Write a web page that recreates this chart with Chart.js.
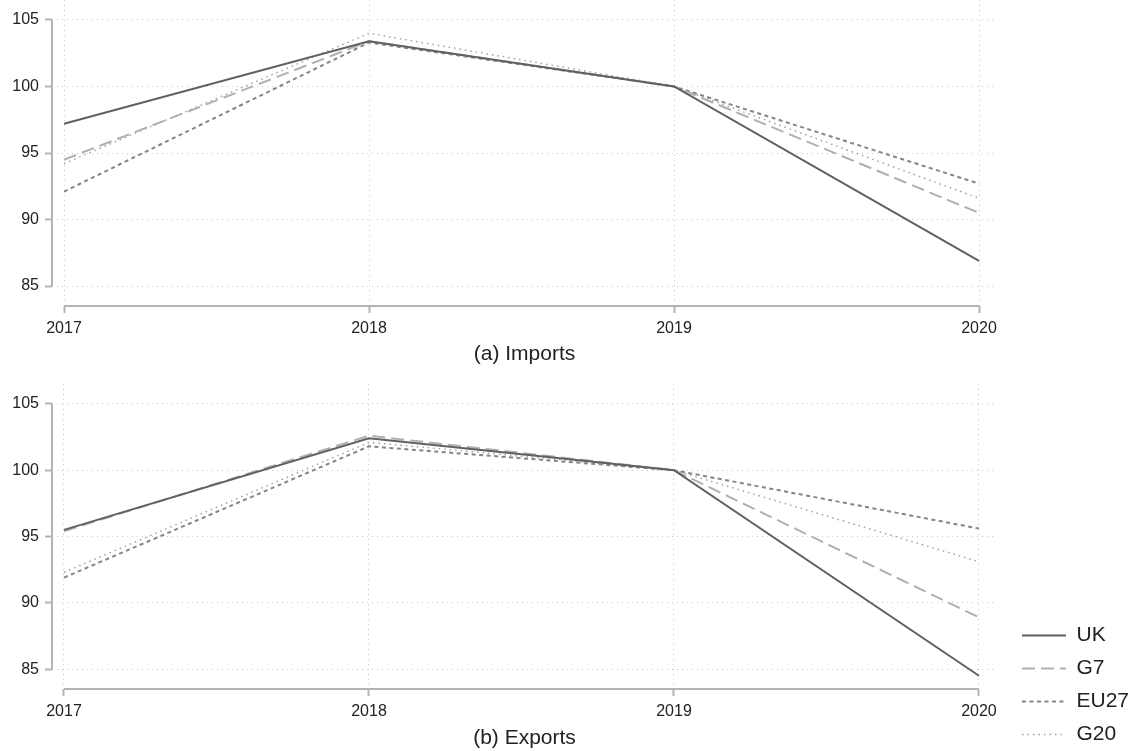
<!DOCTYPE html>
<html>
<head>
<meta charset="utf-8">
<script src="https://cdn.jsdelivr.net/npm/chart.js@4"></script>
<style>
  html, body { margin: 0; padding: 0; background: #fff; overflow: hidden; }
  #wrap { position: relative; width: 1137px; height: 751px; overflow: hidden; }
  #imports { position: absolute; left: 0; top: 0; }
  #exports { position: absolute; left: 0; top: 375px; }
</style>
</head>
<body>
<div id="wrap">
  <canvas id="imports" width="1137" height="375"></canvas>
  <canvas id="exports" width="1137" height="382"></canvas>
</div>
<script>
var years = [2017, 2018, 2019, 2020];
var yTicks = [85, 90, 95, 100, 105];
var seriesNames = ["UK", "G7", "EU27", "G20"];

// (a) Imports, index 2019 = 100
var ukImports   = [97.2, 103.4, 100, 86.9];
var g7Imports   = [94.5, 103.4, 100, 90.5];
var eu27Imports = [92.1, 103.3, 100, 92.7];
var g20Imports  = [94.2, 104.0, 100, 91.6];

// (b) Exports, index 2019 = 100
var ukExports   = [95.5, 102.4, 100, 84.5];
var g7Exports   = [95.4, 102.6, 100, 88.9];
var eu27Exports = [91.9, 101.8, 100, 95.6];
var g20Exports  = [92.3, 102.1, 100, 93.1];

var styles = [
  { color: "#606060", dash: [],       width: 2 },
  { color: "#b0b0b0", dash: [13, 6],  width: 2 },
  { color: "#858585", dash: [4, 3.5], width: 2 },
  { color: "#a0a0a0", dash: [1.5, 4], width: 1.5 }
];

Chart.defaults.font.family = "'Liberation Sans', Arial, sans-serif";
Chart.defaults.color = "#222";

function makeDatasets(values) {
  var ds = [];
  for (var i in values) {
    ds.push({
      label: seriesNames[i],
      data: years.map(function(yr, j) { return { x: yr, y: values[i][j] }; }),
      borderColor: styles[i].color,
      backgroundColor: styles[i].color,
      borderDash: styles[i].dash,
      borderWidth: styles[i].width,
      pointRadius: 0,
      fill: false,
      tension: 0
    });
  }
  return ds;
}

// legend samples should use the line's dash, not the point style
function legendLabels(chart) {
  var items = Chart.defaults.plugins.legend.labels.generateLabels(chart);
  items.forEach(function(it) {
    var ds = chart.data.datasets[it.datasetIndex];
    it.lineDash = ds.borderDash;
    it.lineWidth = ds.borderWidth;
    it.strokeStyle = ds.borderColor;
    it.fillStyle = "rgba(0,0,0,0)";
  });
  return items;
}

// legend sits a bit right of the plot edge
var legendShift = {
  id: "legendShift",
  afterLayout: function(chart) {
    if (chart.legend && chart.legend.options.display) {
      chart.legend.left += 13;
      chart.legend.right += 13;
    }
  }
};

// draw the short axis lines that only run between the first and last tick
var axisLines = {
  id: "axisLines",
  afterDraw: function(chart) {
    var ctx = chart.ctx, xs = chart.scales.x, ys = chart.scales.y;
    var a = chart.chartArea;
    ctx.save();
    ctx.strokeStyle = "#b4b4b4";
    ctx.lineWidth = 2;
    ctx.beginPath();
    ctx.moveTo(xs.getPixelForValue(years[0]), a.bottom);
    ctx.lineTo(xs.getPixelForValue(years[years.length - 1]), a.bottom);
    ctx.moveTo(a.left, ys.getPixelForValue(yTicks[0]));
    ctx.lineTo(a.left, ys.getPixelForValue(yTicks[yTicks.length - 1]));
    ctx.stroke();
    ctx.restore();
  }
};

function makeOptions(title, xHeight, titlePad, showLegend) {
  return {
    responsive: false,
    animation: false,
    layout: { padding: showLegend ? { top: 9, right: 11, bottom: 0, left: 0 } : { top: 0, right: 140, bottom: 0, left: 0 } },
    plugins: {
      legend: {
        display: showLegend,
        position: "right",
        align: "end",
        labels: {
          usePointStyle: true,
          pointStyle: "line",
          pointStyleWidth: 44,
          padding: 12,
          color: "#222",
          font: { size: 21 },
          generateLabels: legendLabels
        }
      },
      tooltip: { enabled: false }
    },
    scales: {
      x: {
        type: "linear",
        min: 2017 - 12 / 305,
        max: 2020 + 18 / 305,
        afterBuildTicks: function(s) { s.ticks = years.map(function(v) { return { value: v }; }); },
        afterFit: function(s) { s.height = xHeight; },
        ticks: {
          padding: 6,
          font: { size: 16 },
          color: "#222",
          callback: function(v) { return String(v); }
        },
        grid: {
          color: "#c8c8c8",
          lineWidth: 1,
          tickLength: 7,
          tickColor: "#b4b4b4",
          tickWidth: 2,
          tickBorderDash: []
        },
        border: { display: false, dash: [1, 4] },
        title: {
          display: true,
          text: title,
          font: { size: 21 },
          color: "#222",
          padding: { top: 0, bottom: titlePad }
        }
      },
      y: {
        min: 83.5,
        max: 106.5,
        afterBuildTicks: function(s) { s.ticks = yTicks.map(function(v) { return { value: v }; }); },
        afterFit: function(s) { s.width = 52; s.paddingTop = 0; s.paddingBottom = 0; },
        ticks: { padding: 6, font: { size: 16 }, color: "#222" },
        grid: {
          color: "#c8c8c8",
          lineWidth: 1,
          tickLength: 7,
          tickColor: "#b4b4b4",
          tickWidth: 2,
          tickBorderDash: []
        },
        border: { display: false, dash: [1, 4] }
      }
    }
  };
}

new Chart(document.getElementById("imports"), {
  type: "line",
  data: { datasets: makeDatasets([ukImports, g7Imports, eu27Imports, g20Imports]) },
  options: makeOptions("(a) Imports", 69, 8, false),
  plugins: [axisLines]
});

new Chart(document.getElementById("exports"), {
  type: "line",
  data: { datasets: makeDatasets([ukExports, g7Exports, eu27Exports, g20Exports]) },
  options: makeOptions("(b) Exports", 68, 6, true),
  plugins: [axisLines, legendShift]
});
</script>
</body>
</html>
